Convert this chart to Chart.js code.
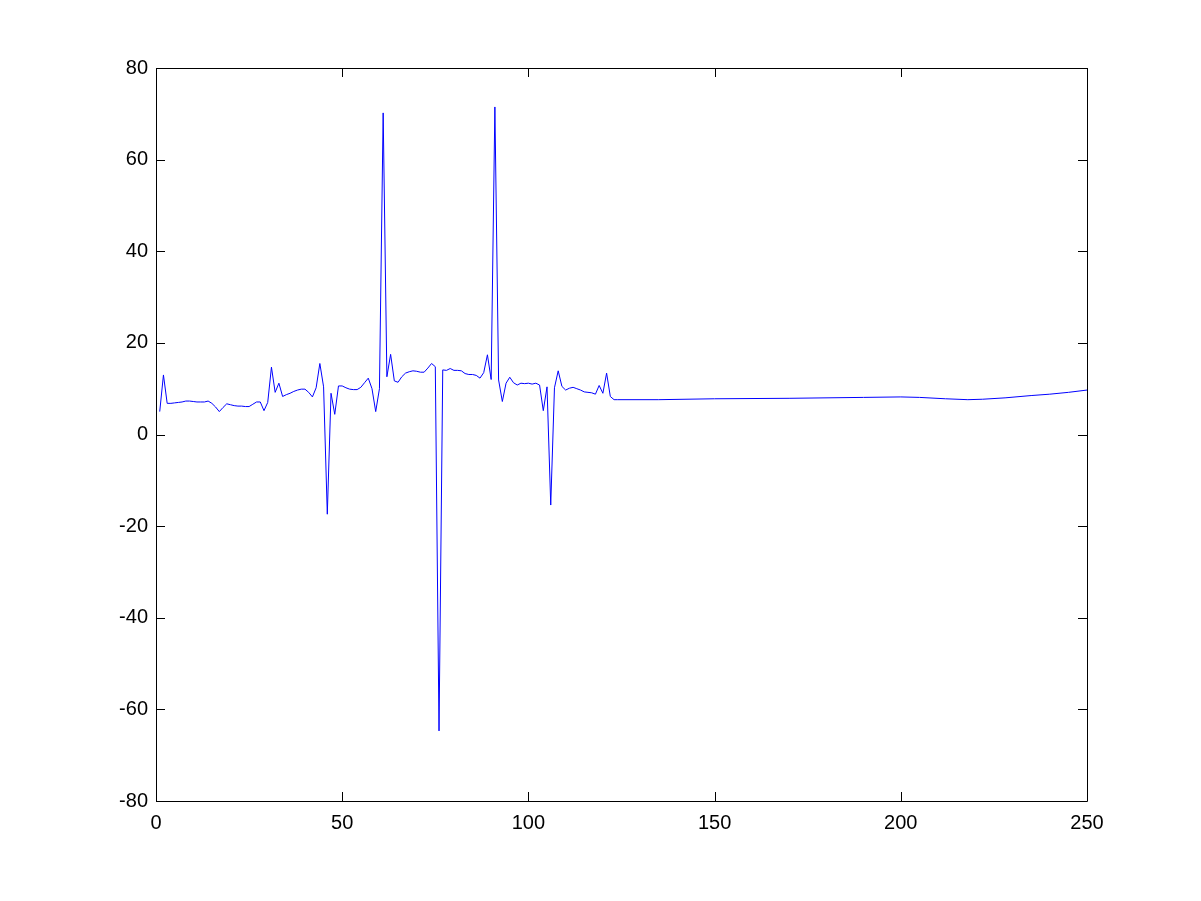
<!DOCTYPE html>
<html>
<head>
<meta charset="utf-8">
<script src="https://cdn.jsdelivr.net/npm/chart.js@4.4.1/dist/chart.umd.min.js"></script>
<style>
    html, body { margin: 0; padding: 0; background: #fff; }
    #signalChart { display: block; }
</style>
</head>
<body>
<canvas id="signalChart" width="1201" height="901"></canvas>
<script>
// sample index (integer steps through the noisy part, sparser on the smooth tail)
const sampleX = [
    1, 2, 3, 4, 5, 6, 7, 8, 9, 10,
    11, 12, 13, 14, 15, 16, 17, 18, 19, 20,
    21, 22, 23, 24, 25, 26, 27, 28, 29, 30,
    31, 32, 33, 34, 35, 36, 37, 38, 39, 40,
    41, 42, 43, 44, 45, 46, 47, 48, 49, 50,
    51, 52, 53, 54, 55, 56, 57, 58, 59, 60,
    61, 62, 63, 64, 65, 66, 67, 68, 69, 70,
    71, 72, 73, 74, 75, 76, 77, 78, 79, 80,
    81, 82, 83, 84, 85, 86, 87, 88, 89, 90,
    91, 92, 93, 94, 95, 96, 97, 98, 99, 100,
    101, 102, 103, 104, 105, 106, 107, 108, 109, 110,
    111, 112, 113, 114, 115, 116, 117, 118, 119, 120,
    121, 122, 123, 124,
    135, 150, 170, 190, 200, 205, 212, 218, 222, 228, 235, 240, 245, 250,
];

const sampleY = [
    5.0, 13.0, 6.8, 6.8, 6.9, 7.0, 7.1, 7.3, 7.3, 7.2,
    7.1, 7.1, 7.1, 7.3, 6.8, 6.0, 5.0, 5.9, 6.7, 6.5,
    6.3, 6.2, 6.2, 6.1, 6.1, 6.6, 7.1, 7.1, 5.2, 7.0,
    14.7, 9.2, 11.2, 8.3, 8.7, 9.0, 9.4, 9.7, 9.9, 9.9,
    9.2, 8.2, 10.2, 15.5, 10.4, -17.4, 9.0, 4.4, 10.6, 10.6,
    10.2, 9.9, 9.8, 9.8, 10.3, 11.3, 12.3, 10.0, 5.0, 10.0,
    70.2, 12.6, 17.5, 11.7, 11.4, 12.6, 13.4, 13.7, 13.9, 13.8,
    13.6, 13.6, 14.5, 15.5, 14.8, -64.7, 14.1, 14.0, 14.4, 14.0,
    14.0, 13.9, 13.3, 13.1, 13.1, 12.9, 12.3, 13.5, 17.4, 12.0,
    71.5, 11.9, 7.2, 11.2, 12.5, 11.3, 10.8, 11.2, 11.1, 11.2,
    11.0, 11.2, 10.8, 5.2, 10.4, -15.4, 10.2, 13.9, 10.5, 9.7,
    10.1, 10.3, 10.0, 9.7, 9.3, 9.2, 9.1, 8.8, 10.7, 9.0,
    13.4, 8.3, 7.6, 7.6,
    7.6, 7.8, 7.9, 8.1, 8.2, 8.1, 7.8, 7.6, 7.7, 8.0, 8.5, 8.8, 9.2, 9.7,
];

const xTicks = [0, 50, 100, 150, 200, 250];
const yTicks = [-80, -60, -40, -20, 0, 20, 40, 60, 80];

const tickFont = {
    family: 'Arial, "Liberation Sans", Helvetica, sans-serif',
    size: 20,
};

// box around the axes with short inward ticks on all four sides
const boxFrame = {
    id: 'boxFrame',
    afterDatasetsDraw(chart) {
        const { ctx, chartArea: a, scales } = chart;
        const len = 9;
        ctx.save();
        ctx.strokeStyle = '#000';
        ctx.lineWidth = 1;
        ctx.beginPath();
        ctx.rect(Math.round(a.left) + 0.5, Math.round(a.top) + 0.5,
            Math.round(a.right - a.left), Math.round(a.bottom - a.top));
        xTicks.forEach(v => {
            const px = Math.round(scales.x.getPixelForValue(v)) + 0.5;
            ctx.moveTo(px, a.bottom);
            ctx.lineTo(px, a.bottom - len);
            ctx.moveTo(px, a.top);
            ctx.lineTo(px, a.top + len);
        });
        yTicks.forEach(v => {
            const py = Math.round(scales.y.getPixelForValue(v)) + 0.5;
            ctx.moveTo(a.left, py);
            ctx.lineTo(a.left + len, py);
            ctx.moveTo(a.right, py);
            ctx.lineTo(a.right - len, py);
        });
        ctx.stroke();
        ctx.restore();
    },
};

const ctx = document.getElementById('signalChart');

new Chart(ctx, {
    type: 'line',
    data: {
        datasets: [{
            data: sampleX.map((x, i) => ({ x, y: sampleY[i] })),
            borderColor: '#0000ff',
            borderWidth: 1,
            pointRadius: 0,
            tension: 0,
            fill: false,
        }],
    },
    options: {
        responsive: false,
        animation: false,
        layout: {
            padding: { left: 100, right: 114, top: 68, bottom: 60 },
        },
        plugins: {
            legend: { display: false },
            tooltip: { enabled: false },
        },
        scales: {
            x: {
                type: 'linear',
                min: 0,
                max: 250,
                afterFit: scale => { scale.height = 40; },
                afterBuildTicks: scale => { scale.ticks = xTicks.map(value => ({ value })); },
                grid: { display: false, drawTicks: false },
                border: { display: false },
                ticks: {
                    font: tickFont,
                    color: '#000',
                    padding: 10,
                    maxRotation: 0,
                },
            },
            y: {
                type: 'linear',
                min: -80,
                max: 80,
                afterFit: scale => { scale.width = 56; },
                afterBuildTicks: scale => { scale.ticks = yTicks.map(value => ({ value })); },
                grid: { display: false, drawTicks: false },
                border: { display: false },
                ticks: {
                    font: tickFont,
                    color: '#000',
                    padding: 8,
                },
            },
        },
    },
    plugins: [boxFrame],
});
</script>
</body>
</html>
